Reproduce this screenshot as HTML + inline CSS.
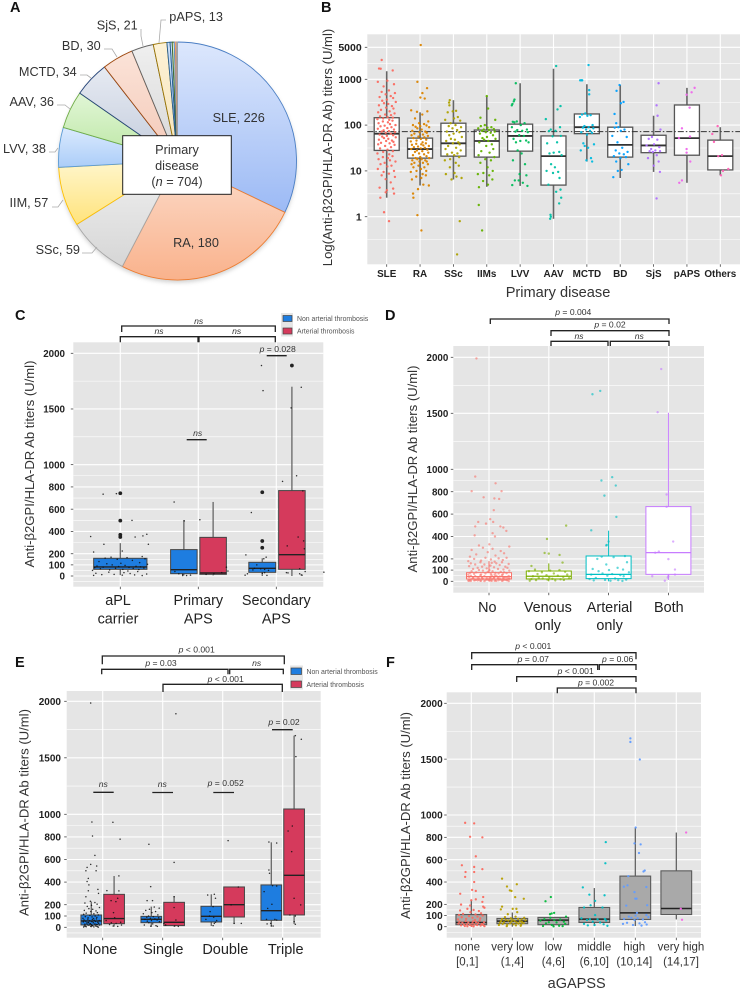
<!DOCTYPE html>
<html lang="en">
<head>
<meta charset="utf-8">
<title>Anti-β2GPI/HLA-DR antibody titers figure</title>
<style>
html,body{margin:0;padding:0;background:#fff}
svg{display:block;filter:blur(.38px);font-family:"Liberation Sans",sans-serif}
text{fill:#222}
.lab{font-size:12.7px;fill:#333}
.note{font-size:8.6px;fill:#333}
.panel-letter{font-size:14.5px;font-weight:bold;fill:#111}
.ytitle{font-size:13.1px;fill:#333}
.leg{font-size:6.9px;fill:#555}
.br{fill:none;stroke:#222;stroke-width:1.3}
.lead{fill:none;stroke:#aaa;stroke-width:.8}
</style>
</head>
<body>
<svg id="fig" xmlns="http://www.w3.org/2000/svg" width="741" height="991" viewBox="0 0 741 991">
<defs><filter id="pieShadow" x="-10%" y="-10%" width="120%" height="120%"><feGaussianBlur stdDeviation="2"/></filter></defs>

<text class="panel-letter" x="10" y="12">A</text>
<text class="panel-letter" x="321" y="12">B</text>
<text class="panel-letter" x="15" y="320">C</text>
<text class="panel-letter" x="385" y="320">D</text>
<text class="panel-letter" x="15" y="667">E</text>
<text class="panel-letter" x="386" y="667">F</text>

<g id="pie"></g>
<g>
<polyline class="lead" points="82,253 92,253 97,247"/>
<polyline class="lead" points="52,207 58,207 63,200"/>
<polyline class="lead" points="49,152 55,152 58,148"/>
<polyline class="lead" points="57,105 65,105 70,109"/>
<polyline class="lead" points="80,75 87,75 91,78"/>
<polyline class="lead" points="104,49 112,49 117,57"/>
<polyline class="lead" points="141,29 141,36 143,46"/>
<polyline class="lead" points="166,20 161,20 159,43"/>
<text class="lab" x="238.7" y="122" text-anchor="middle">SLE, 226</text>
<text class="lab" x="196" y="247" text-anchor="middle">RA, 180</text>
<text class="lab" x="80" y="254" text-anchor="end">SSc, 59</text>
<text class="lab" x="48.3" y="207" text-anchor="end">IIM, 57</text>
<text class="lab" x="46" y="153" text-anchor="end">LVV, 38</text>
<text class="lab" x="54" y="106" text-anchor="end">AAV, 36</text>
<text class="lab" x="76.7" y="76" text-anchor="end">MCTD, 34</text>
<text class="lab" x="100.7" y="50" text-anchor="end">BD, 30</text>
<text class="lab" x="137.7" y="29.5" text-anchor="end">SjS, 21</text>
<text class="lab" x="169.3" y="21">pAPS, 13</text>
<rect x="122.7" y="135.7" width="108.6" height="58.6" fill="#fff" stroke="#222" stroke-width="1"/>
<text class="lab" x="177" y="154" text-anchor="middle">Primary</text>
<text class="lab" x="177" y="170" text-anchor="middle">disease</text>
<text class="lab" x="177" y="186" text-anchor="middle">(<tspan font-style="italic">n</tspan> = 704)</text>
</g>

<g id="panelB"></g>
<g id="panelC"></g>
<g id="panelD"></g>
<g id="panelE"></g>
<g id="panelF"></g>

<text class="ytitle" transform="translate(332,147.5) rotate(-90)" text-anchor="middle">Log(Anti-β2GPI/HLA-DR Ab) titers (U/ml)</text>
<text x="558" y="297" text-anchor="middle" font-size="14.6" style="fill:#333">Primary disease</text>
<text class="ytitle" transform="translate(34,464) rotate(-90)" text-anchor="middle">Anti-β2GPI/HLA-DR Ab titers (U/ml)</text>
<text class="ytitle" transform="translate(417,469) rotate(-90)" text-anchor="middle">Anti-β2GPI/HLA-DR Ab titers (U/ml)</text>
<text class="ytitle" transform="translate(28.5,812.5) rotate(-90)" text-anchor="middle">Anti-β2GPI/HLA-DR Ab titers (U/ml)</text>
<text class="ytitle" transform="translate(410,815.5) rotate(-90)" text-anchor="middle">Anti-β2GPI/HLA-DR Ab titers (U/ml)</text>
<text x="576.7" y="988" text-anchor="middle" font-size="14.5" style="fill:#333">aGAPSS</text>

<g>
<path class="br" d="M121.7 332V326H275.3V332"/>
<path class="br" d="M120.3 342.3V336.7H198V342.3"/>
<path class="br" d="M199 342.3V336.7H275.3V342.3"/>
<path class="br" d="M186.7 439.7H206.7"/>
<path class="br" d="M266.7 355.7H286.7"/>
<text class="note" x="198.7" y="324" text-anchor="middle" font-style="italic">ns</text>
<text class="note" x="159" y="334" text-anchor="middle" font-style="italic">ns</text>
<text class="note" x="236.7" y="334" text-anchor="middle" font-style="italic">ns</text>
<text class="note" x="197.7" y="436" text-anchor="middle" font-style="italic">ns</text>
<text class="note" x="277.7" y="352" text-anchor="middle"><tspan font-style="italic">p</tspan> = 0.028</text>
<rect x="281" y="313" width="12" height="23.5" fill="#e5e5e5"/>
<rect x="283" y="315.5" width="9" height="6" fill="#1e7de0" stroke="#444" stroke-width=".7"/>
<rect x="283" y="328" width="9" height="6" fill="#d53a5c" stroke="#444" stroke-width=".7"/>
<text class="leg" x="297" y="321">Non arterial thrombosis</text>
<text class="leg" x="297" y="333.3">Arterial thrombosis</text>
</g>

<g>
<path class="br" d="M490.3 324V319H669V324"/>
<path class="br" d="M551 336V330.7H669V336"/>
<path class="br" d="M551 346V341.3H608V346"/>
<path class="br" d="M610.3 346V341.3H669V346"/>
<text class="note" x="573.3" y="315" text-anchor="middle"><tspan font-style="italic">p</tspan> = 0.004</text>
<text class="note" x="610" y="327.3" text-anchor="middle"><tspan font-style="italic">p</tspan> = 0.02</text>
<text class="note" x="579" y="339" text-anchor="middle" font-style="italic">ns</text>
<text class="note" x="639.3" y="339" text-anchor="middle" font-style="italic">ns</text>
</g>

<g>
<path class="br" d="M102.3 664.3V656H284.3V664.3"/>
<path class="br" d="M101.7 674.3V669.3H228V674.3"/>
<path class="br" d="M229.7 674.3V669.3H283.3V674.3"/>
<path class="br" d="M163 692V684.3H282.3V692"/>
<path class="br" d="M93.3 792.3H113.7"/>
<path class="br" d="M152.3 792.5H173"/>
<path class="br" d="M213.3 792.5H234"/>
<path class="br" d="M272 729.7H292.7"/>
<text class="note" x="196.7" y="652.3" text-anchor="middle"><tspan font-style="italic">p</tspan> &lt; 0.001</text>
<text class="note" x="161" y="666" text-anchor="middle"><tspan font-style="italic">p</tspan> = 0.03</text>
<text class="note" x="256.7" y="666" text-anchor="middle" font-style="italic">ns</text>
<text class="note" x="225.7" y="682" text-anchor="middle"><tspan font-style="italic">p</tspan> &lt; 0.001</text>
<text class="note" x="103.3" y="787" text-anchor="middle" font-style="italic">ns</text>
<text class="note" x="162.3" y="787" text-anchor="middle" font-style="italic">ns</text>
<text class="note" x="225.7" y="786" text-anchor="middle"><tspan font-style="italic">p</tspan> = 0.052</text>
<text class="note" x="284" y="725" text-anchor="middle"><tspan font-style="italic">p</tspan> = 0.02</text>
<rect x="290" y="665.5" width="13" height="24" fill="#e5e5e5"/>
<rect x="291" y="668" width="10.5" height="6.5" fill="#1e7de0" stroke="#444" stroke-width=".7"/>
<rect x="291" y="681" width="10.5" height="6.5" fill="#d53a5c" stroke="#444" stroke-width=".7"/>
<text class="leg" x="306.5" y="674">Non arterial thrombosis</text>
<text class="leg" x="306.5" y="687">Arterial thrombosis</text>
</g>

<g>
<path class="br" d="M471.7 659.3V652.7H636V659.3"/>
<path class="br" d="M471.7 670V664.7H597.7V670"/>
<path class="br" d="M599.3 670V664.7H636V670"/>
<path class="br" d="M516.7 682V676.7H636V682"/>
<path class="br" d="M557.3 693.3V688H636V693.3"/>
<text class="note" x="533.3" y="649" text-anchor="middle"><tspan font-style="italic">p</tspan> &lt; 0.001</text>
<text class="note" x="533.3" y="662" text-anchor="middle"><tspan font-style="italic">p</tspan> = 0.07</text>
<text class="note" x="617.7" y="662" text-anchor="middle"><tspan font-style="italic">p</tspan> = 0.06</text>
<text class="note" x="575.7" y="674" text-anchor="middle"><tspan font-style="italic">p</tspan> &lt; 0.001</text>
<text class="note" x="596" y="685.3" text-anchor="middle"><tspan font-style="italic">p</tspan> = 0.002</text>
</g>
</svg>

<script>
/* ---------- Panel A data ---------- */
const pieNames=['SLE','RA','SSc','IIM','LVV','AAV','MCTD','BD','SjS','pAPS','o1','o2','o3','o4','o5','o6'];
const pieCounts=[226,180,59,57,38,36,34,30,21,13,3,2,2,1,1,1];
const pieTop=['#dce7fc','#fcdccb','#f0f0f0','#fff6cc','#dbeafe','#e1f6d6','#e6eaf2','#fbe3d8','#efefef','#fdf2d6','#cfe0f7','#cfe0f7','#d6ecc8','#dbe4f5','#fbd5be','#ddd'];
const pieBottom=['#9cbaf5','#f9b28c','#d6d6d6','#ffe37c','#abcdf8','#bbe6a3','#c3ccdc','#f3c8b7','#d6d6d6','#f5e2b8','#9fc1ee','#9fc1ee','#a9d490','#a8bce6','#f5a878','#bbb'];
const pieStroke=['#4a7ec4','#ed7d31','#a5a5a5','#ffc000','#5b9bd5','#70ad47','#264478','#9e480e','#636363','#997300','#255e91','#255e91','#43682b','#698ed0','#f1975a','#a0a0a0'];

/* ---------- Shared axis values ---------- */
const titerTicks=[0,100,200,400,600,800,1000,1500,2000];
const titerMinor=[-50,50,150,300,500,700,900,1250,1750];
const scatter=[.62,-.41,.13,-.87,.35,.94,-.22,-.66,.51,.07,-.95,.78,-.33,.24,-.54,.88,-.11,.43,-.76,.69,.02,-.48,.97,-.29,.17,-.83,.56,-.06,.72,-.61,.31,-.91,.84,-.17,.46,-.71,.09,.66,-.38,-.99,.27];

/* ---------- Panel B data ---------- */
const bCategories=['SLE','RA','SSc','IIMs','LVV','AAV','MCTD','BD','SjS','pAPS','Others'];
const bTicks=[1,10,100,1000,5000];
const bMinor=[.316,3.16,31.6,316,2236];
const bColors=['#fb6a60','#db8400','#aea200','#64b200','#00bd5c','#00c1a7','#00badf','#00a0ff','#b070ff','#ef67eb','#ff63b6'];
const bCutoff=72;
const bStats=[[2.6,28,65,145,1500],[4.8,19,30,52,190],[6.5,21,40,110,350],[4.5,20,45,78,430],[4.7,27,58,105,820],[.9,4.9,21,58,1700],[16,65,90,175,780],[7,20,37,90,750],[9.5,25,36,60,160],[5.5,22,52,275,650],[8,10.5,21,47,90]];
const sleTiters=[2640,1720,1700,1560,1.25,.8,2.6,3.2,3.4,930,880,780,700,570,530,500,470,430,410,390,360,340,320,300,290,270,260,240,230,215,200,190,180,170,165,155,150,145,140,135,130,125,120,115,110,105,100,97,94,90,86,83,80,77,74,72,70,68,65,62,60,58,56,54,52,50,48,46,45,43,41,40,38,37,35,33,31,29,27,26,24,23,21,20,19,18,17,16,15,14,13,12.5,11,10,9.5,8.7,8,7.4,6.6,5.6,4.3,4.1,3.8];
const sleJitter=[-.15,-.23,-.18,.18,-.08,.07,-.19,.22,-.03];
const raTiters=[5600,880,640,500,400,380,3.2,2.6,1.08,.5,210,200,195,170,140,120,110,105,100,98,95,92,90,85,80,75,72,70,68,65,62,60,58,56,54,52,50,48,46,44,42,40,39,38,37,36,35,34,33,32,31,30,29,28,27,26,25,24,23,22,21,20,19,19,18,18,17,17,16,16,15,15,14,14,13,12,12,11,10,10,9.5,8.5,8,7.5,7,6.5,5,4.8,4];
const raJitter=[.02,-.08,.21,.07,.01,.14,-.21,-.2,-.08,.04];
const sscTiters=[350,310,270,.8,.15,205,200,190,150,140,130,125,110,100,95,90,85,78,72,70,65,60,55,50,48,45,42,40,38,35,32,30,28,25,24,23,22,20,18,17,15,13,12,9,8.5,7.5,7,6.5];
const sscJitter=[-.11,-.13,-.12,.19,.11,.08,-.02];
const iimTiters=[430,230,145,1.8,.5,130,100,95,90,88,85,82,80,78,75,72,70,68,65,60,55,52,50,48,45,42,38,35,30,27,25,22,20,18,17,15,12,10,9,8.5,8,6.5,6,5,4.4];
const iimJitter=[0,.04,-.19,-.24,-.14];
const lvvTiters=[820,360,330,290,270,120,118,115,110,100,90,80,78,75,72,70,60,58,50,46,45,42,42,28,24,17,14,8.5,8,6.2,5.5,4.9,4.7,6.2];
const lvvJitter=[-.13,-.17,-.19,-.23,-.25,-.1,-.22];
const aavTiters=[1950,260,220,135,3.9,3.5,2.6,1.95,1.1,1,.9,90,80,75,74,58,57,42,40,26,25,24,22,14,12,10,9.5,9,7,5];
const aavJitter=[.08,.21,.12,-.23,.21,.08,.23,.17,-.09,-.08,-.1];
const mctdTiters=[2050,950,950,950,580,470,180,170,165,160,150,100,95,90,88,85,80,75,70,68,62,40,38,35,32,28,19,17,16];
const mctdJitter=[.05,-.2,-.16,-.14,.07,.07];
const bdTiters=[750,560,320,300,175,110,90,88,80,75,58,55,42,32,28,26,24,23,21,20,19,16,14,10,10.5,7.3];
const bdJitter=[-.02,-.11,.1,.02,-.17,-.12];
const sjsTiters=[820,270,160,2.5,9.5,80,55,50,48,38,36,33,30,28,27,27,26,22,19,16,13];
const sjsJitter=[.15,.09,.12,.09,.19];
const papsTiters=[650,520,460,240,85,52,56,30,25,16,6.2,5.5];
const papsJitter=[.23,.14,-.01,.08,-.15,-.24,.09,-.01,-.01,.1,-.15,-.23];
const othersTiters=[95,64,43,21,22,11,10,8];
const othersJitter=[-.08,-.24,-.19,-.06,.05,.24,.08,.02];

/* ---------- Panel C data ---------- */
const cCategories=[['aPL','carrier'],['Primary','APS'],['Secondary','APS']];
const cStats=[[8,60,81,159,295],[5,21,57,237,503],[5,15,27,347,665],[0,33,69,123,159],[0,60,191,767,1700]];
const cOutliersApl=[743,497,370,350];
const cOutliersSecNon=[752,314,254];
const cOutliersSecArt=[1890];
const cAplTiters=[735,740,500,375,360,355,350,285,285,225,215,175,170,165,160,155,150,140,130,120,115,110,105,100,95,90,88,85,82,80,78,75,72,70,68,65,60,58,55,50,45,40,35,30,25,22,18,15,12,10,8,6,5];
const cAplJitter=[-.22,-.05,.15,.34,.29,-.38,.19,-.21,.36];
const cPriNonTiters=[665,495,40,20,15,8,5,5];
const cPriNonJitter=[-.31,-.18,-.3,-.25,-.2,-.1,-.2,-.15];
const cPriArtTiters=[505,80,45,30,20,15];
const cPriArtJitter=[.02,.36,.38,.3,.2,.1];
const cSecNonTiters=[1890,1665,570,190,170,155,100,70,65,60,55,50,30,25,20,8,6];
const cSecNonJitter=[-.19,-.17,-.32,-.39,-.13,-.16,-.25,-.28,-.2,-.15,-.3,-.1,-.15,-.18,-.37,-.4,-.12];
const cSecArtTiters=[1695,1510,900,850,765,350,315,270,245,65,40,30,28,20,10,8,35];
const cSecArtJitter=[.32,.19,.26,.08,.34,.28,.35,.14,.36,.3,.37,.13,.15,.3,.32,.33,.61];

/* ---------- Panel D data ---------- */
const dCategories=[['No'],['Venous','only'],['Arterial','only'],['Both']];
const dColors=['#f8766d','#7cae00','#00bfc4','#c77cff'];
const dStats=[[0,21,42,77,180],[0,21,45,92,160],[0,24,62,226,452],[12,62,256,667,1505]];
const dNoTiters=[1990,935,875,805,805,750,740,735,635,530,555,515,530,490,490,480,450,430,410,400,330,320,310,300,290,280,270,260,250,240,230,220,210,210,205,200,195,190,185,180,175,170,170,165,160,160,155,150,150,145,140,135,130,130,125,120,120,115,110,110,105,100,100,95,95,90,90,85,85,80,80,75,75,72,70,70,66,65,62,60,60,58,55,55,52,50,50,48,45,45,42,40,40,38,36,35,34,32,30,30,28,26,25,24,22,20,20,18,16,15,15,14,12,12,10,10,9,8,8,7,6,6,5,5,4,4,3,3,2,2,10,20,30,5,15,25,35,8,12,18,22,28,32,6,14,24];
const dNoJitter=[-.21,-.23,.11,-.29,.21,-.09,.09,.17,.08,-.18,.02,-.05,.07,-.23,.19,.24,.29,.06,-.24,.1];
const dVenTiters=[497,378,253,247,235,137,167,105,100,95,90,85,80,70,65,60,55,50,45,40,35,30,28,25,22,20,18,15,12,10,8,5];
const dVenJitter=[.29,-.03,-.07,0,.18,-.29,.23];
const dArtTiters=[1670,1700,930,900,855,765,575,455,355,325,320,225,220,215,200,170,150,120,110,105,100,90,80,70,65,60,55,50,45,30,25,20,15,12,10,8,5,3];
const dArtJitter=[-.27,-.14,.06,-.12,.12,-.07,.13,-.29,0,-.03,-.04];
const dBothTiters=[1895,1510,775,665,355,265,255,198,105,60,45,45,33,5];
const dBothJitter=[-.12,-.18,-.03,-.03,.08,-.16,-.22,0,.11,.11,-.27,0,-.01,-.06];

/* ---------- Panel E data ---------- */
const eCategories=[['None'],['Single'],['Double'],['Triple']];
const eStatsNon=[[0,21,56,109,227],[5,41,71,97,183],[12,47,97,186,292],[12,62,147,375,752]];
const eStatsArt=[[6,32,77,292,454],[5,15,44,221,277],[30,91,200,357,357],[30,109,460,1047,1696]];
const eNoneNonTiters=[1985,932,808,637,557,543,530,500,500,433,405,375,336,300,324,270,230,220,215,205,195,185,175,165,160,150,145,140,130,125,120,115,110,105,100,95,92,88,85,80,78,75,72,70,66,62,60,58,55,52,50,48,45,42,40,38,35,32,30,28,26,24,22,20,18,15,12,10,8,6,5,4,3,2,30,20,10,15,25,40];
const eNoneNonJitter=[-.2,-.18,-.17,-.13,-.2,-.1,-.26,-.28,-.11,-.24,-.26,-.23,-.08,-.07,-.24,-.28];
const eNoneArtTiters=[930,780,455,325,322,257,236,227,130,85,60,45,40,35,25,20,12,8];
const eNoneArtJitter=[.17,.29,.27,.07,.27,.25,.14,.22,.18];
const eSingleNonTiters=[735,360,236,236,180,170,160,150,140,130,120,110,100,95,90,85,80,75,70,65,60,55,50,40,30,20,15,10,8];
const eSingleNonJitter=[-.23,-.2,-.26,-.17];
const eSingleArtTiters=[1890,575,270,175,65,20,12,8,35];
const eSingleArtJitter=[.22,.19,.19,.19,.22,.05,.2,.26,.02];
const eDoubleNonTiters=[292,286,257,183,139,100,90,70,60,45,35,15];
const eDoubleNonJitter=[-.14,-.25,-.12,-.16,-.21,-.22,-.15,-.28,-.1,-.12,-.14,-.16];
const eDoubleArtTiters=[767,357,198,35,35];
const eDoubleArtJitter=[.09,.26,.14,.19,.31];
const eTripleNonTiters=[755,746,507,478,316,369,366,204,168,70,70,65,35,30,12,12];
const eTripleNonJitter=[-.23,-.1,-.23,-.22,-.31,-.17,-.1,-.18,-.25,-.27,-.13,-.1,-.2,-.26,-.16,-.19];
const eTripleArtTiters=[1696,1664,1510,897,852,670,257,198,109,100,50,27];
const eTripleArtJitter=[.21,.31,.22,.16,.09,.15,.19,.3,.12,.21,.19,.21];

/* ---------- Panel F data ---------- */
const fCategories=[['none','[0,1]'],['very low','(1,4]'],['low','(4,6]'],['middle','(6,10]'],['high','(10,14]'],['very high','(14,17]']];
const fColors=['#fb6a60','#b79f00','#00ba38','#00bfc4','#619cff','#f564e3'];
const fStats=[[0,18,38,109,243],[0,27,50,74,127],[0,18,59,83,83],[6,38,68,172,346],[6,65,124,453,888],[65,109,163,500,843]];
const fNoneTiters=[930,925,805,800,630,550,535,490,515,490,446,400,330,320,295,266,245,237,222,198,180,190,170,160,150,145,140,130,120,115,110,105,100,95,90,85,80,75,70,65,60,55,50,48,45,42,40,38,35,32,30,28,25,22,20,18,16,15,14,12,10,8,6,5,4,3];
const fNoneJitter=[-.15,.07,-.03,.27,.11,-.23,.07,-.14,.27,.07,-.15,.07,.02,.11,-.27,.29,.11,0,.27,-.25,.29,-.03];
const fVeryLowTiters=[430,380,360,325,320,265,250,180,155,160,160,112,130,90,85,80,75,70,68,65,62,60,58,55,52,50,48,45,42,40,38,35,32,30,28,25,22,20,18,15,12,8,5];
const fVeryLowJitter=[-.25,.11,-.13,-.06,-.02,.07,.28,-.25,-.28,.01,.1,-.11,.12];
const fLowTiters=[266,228,124,118,112,90,80,68,65,60,55,45,40,38,30,25,15,8,6,5,3];
const fLowJitter=[-.06,-.19,.02,-.04,-.08];
const fMiddleTiters=[757,568,352,281,287,231,192,172,172,104,75,70,68,65,60,55,45,38,25,22,15,12,8];
const fMiddleJitter=[.28,.27,-.28,.25,-.12,.02,-.09,-.25,.2,.02];
const fHighTiters=[1686,1654,1497,888,746,737,660,503,494,453,358,370,355,310,251,251,189,192,104,124,100,90,85,80,75,70,65,60,40,35,30,25,20,15,10];
const fHighJitter=[-.12,-.12,.11,.01,-.02,.13,.09,.23,.2,-.17,-.28,-.19,.27,-.02,0,.03,-.22,.29,.27,.04];
const fVeryHighTiters=[843,160,62];
const fVeryHighJitter=[.24,.11,.14];

/* ---------- Helpers ---------- */
const NS='http://www.w3.org/2000/svg';
function mk(parent,tag,attrs,name){
  const el=document.createElementNS(NS,tag);
  for(const k in attrs){el.setAttribute(k,attrs[k]);}
  
  
  parent.appendChild(el);
  return el;
}
function label(parent,x,y,str,attrs,name){
  const t=mk(parent,'text',Object.assign({x:x,y:y},attrs),name);
  t.textContent=str;
  return t;
}

/* ---------- Pie ---------- */
function drawPie(){
  const g=document.getElementById('pie');
  const cx=177.5,cy=161,r=119;
  const defs=document.querySelector('#fig defs');
  mk(g,'circle',{cx:cx,cy:cy+2.5,r:r,fill:'#999',opacity:.45,filter:'url(#pieShadow)'},'pie-shadow');
  const total=pieCounts.reduce((a,b)=>a+b,0);
  let acc=0;
  pieCounts.forEach((c,i)=>{
    const a0=acc/total*2*Math.PI;acc+=c;const a1=acc/total*2*Math.PI;
    const id='pg'+i;
    const grad=document.createElementNS(NS,'linearGradient');
    grad.setAttribute('id',id);grad.setAttribute('x1','0');grad.setAttribute('y1','0');grad.setAttribute('x2','0');grad.setAttribute('y2','1');
    const s0=document.createElementNS(NS,'stop');s0.setAttribute('offset','0');s0.setAttribute('stop-color',pieTop[i]);grad.appendChild(s0);
    const s1=document.createElementNS(NS,'stop');s1.setAttribute('offset','1');s1.setAttribute('stop-color',pieBottom[i]);grad.appendChild(s1);
    defs.appendChild(grad);
    const x0=cx+r*Math.sin(a0),y0=cy-r*Math.cos(a0),x1=cx+r*Math.sin(a1),y1=cy-r*Math.cos(a1);
    const large=(a1-a0)>Math.PI?1:0;
    mk(g,'path',{d:`M${cx} ${cy}L${x0} ${y0}A${r} ${r} 0 ${large} 1 ${x1} ${y1}Z`,fill:`url(#${id})`,stroke:pieStroke[i],'stroke-width':.9},'pie-slice-'+pieNames[i].toLowerCase());
  });
}

/* ---------- Generic panel frame ---------- */
function frame(o){
  const g=document.getElementById(o.id);
  mk(g,'rect',{x:o.left,y:o.top,width:o.right-o.left,height:o.bottom-o.top,fill:'#e5e5e5'},o.tag+'-plot-background');
  o.minor.forEach(v=>{
    const y=o.y(v);
    mk(g,'line',{x1:o.left,x2:o.right,y1:y,y2:y,stroke:'#fff','stroke-width':.55},o.tag+'-minor-gridline');
  });
  o.major.forEach(v=>{
    const y=o.y(v);
    mk(g,'line',{x1:o.left,x2:o.right,y1:y,y2:y,stroke:'#fff','stroke-width':1.1},o.tag+'-major-gridline');
    mk(g,'line',{x1:o.left-2.5,x2:o.left,y1:y,y2:y,stroke:'#444','stroke-width':.8},o.tag+'-y-tick');
    label(g,o.labelEdge,y+3.6,String(v),{'text-anchor':'end','font-size':o.tickFont,'font-weight':'bold'},o.tag+'-y-tick-label');
  });
  o.cats.forEach((c,i)=>{
    const x=o.x(i);
    mk(g,'line',{x1:x,x2:x,y1:o.top,y2:o.bottom,stroke:'#fff','stroke-width':1.1},o.tag+'-vertical-gridline');
    mk(g,'line',{x1:x,x2:x,y1:o.bottom,y2:o.bottom+2.5,stroke:'#444','stroke-width':.8},o.tag+'-x-tick');
    c.forEach((line,j)=>{
      label(g,x+(o.nudge?o.nudge[i]:0),o.catY+j*o.catGap,line,{'text-anchor':'middle','font-size':o.catFont,'font-weight':o.catWeight||'normal',style:'fill:'+(o.catFill||'#222')},o.tag+'-x-category-label');
    });
  });
  return g;
}
function box(g,o,cx,w,s,st,name){
  const[lo,q1,med,q3,hi]=s;
  const y=o.y;
  mk(g,'line',{x1:cx,x2:cx,y1:y(q3),y2:y(hi),stroke:st.whisk,'stroke-width':st.ww},name+'-upper-whisker');
  mk(g,'line',{x1:cx,x2:cx,y1:y(q1),y2:y(lo),stroke:st.whisk,'stroke-width':st.ww},name+'-lower-whisker');
  mk(g,'rect',{x:cx-w/2,y:y(q3),width:w,height:y(q1)-y(q3),fill:st.fill,stroke:st.stroke,'stroke-width':st.sw},name+'-box');
  mk(g,'line',{x1:cx-w/2,x2:cx+w/2,y1:y(med),y2:y(med),stroke:st.med,'stroke-width':st.mw},name+'-median');
}
function dots(g,o,i,vals,jit,center,spread,st,name){
  vals.forEach((v,k)=>{
    const j=(jit&&jit[k]!==undefined)?jit[k]:center+scatter[k%scatter.length]*spread;
    mk(g,'circle',{cx:o.x(i)+j*o.step,cy:o.y(v),r:st.r,fill:st.color,opacity:st.op},name+'-point');
  });
}
function outliers(g,o,i,off,vals,name){
  vals.forEach(v=>{
    mk(g,'circle',{cx:o.x(i)+off*o.step,cy:o.y(v),r:1.9,fill:'#222'},name+'-outlier');
  });
}
function linearOpts(id,tag,left,right,top,bottom,y0,y2000,x0,step,edge,cats,catY,catGap,catFont,tickFont,nudge){
  return {id,tag,left,right,top,bottom,step,labelEdge:edge,cats,catY,catGap,catFont,tickFont,nudge,
    minor:titerMinor,major:titerTicks,
    x:i=>x0+i*step,
    y:v=>y0+(y2000-y0)*v/2000};
}

/* ---------- Panel B ---------- */
function drawB(){
  const o={id:'panelB',tag:'b',left:367.3,right:740,top:34.3,bottom:264.3,step:33.36,labelEdge:361.7,
    cats:bCategories.map(c=>[c]),catY:277,catGap:0,catFont:9.9,catWeight:'bold',tickFont:10.5,minor:bMinor,major:bTicks,
    x:i=>386.7+i*33.36,y:v=>216.7-45.8*Math.log10(v)};
  const g=frame(o);
  const groups=[[sleTiters,sleJitter],[raTiters,raJitter],[sscTiters,sscJitter],[iimTiters,iimJitter],[lvvTiters,lvvJitter],[aavTiters,aavJitter],[mctdTiters,mctdJitter],[bdTiters,bdJitter],[sjsTiters,sjsJitter],[papsTiters,papsJitter],[othersTiters,othersJitter]];
  const spreads=[.28,.28,.26,.27,.26,.25,.22,.25,.22,.24,.24];
  bStats.forEach((s,i)=>{
    box(g,o,o.x(i),25,s,{whisk:'#666',ww:1.6,fill:'#fff',stroke:'#555',sw:1.3,med:'#333',mw:1.8},'b-'+bCategories[i].toLowerCase());
  });
  mk(g,'line',{x1:o.left,x2:o.right,y1:o.y(bCutoff),y2:o.y(bCutoff),stroke:'#333','stroke-width':.9,'stroke-dasharray':'6 2 1.5 2'},'b-cutoff-line');
  groups.forEach((gr,i)=>{
    dots(g,o,i,gr[0],gr[1],0,spreads[i],{r:1.2,color:bColors[i],op:.95},'b-'+bCategories[i].toLowerCase());
  });
}

/* ---------- Panels C-F ---------- */
const BLUE='#1e7de0',RED='#d53a5c';
const dark={whisk:'#666',ww:1.3,stroke:'#444',sw:1,med:'#222',mw:1.4};
const tiny={r:.75,color:'#111',op:.85};

function drawC(){
  const o=linearOpts('panelC','c',73.3,323.3,342.3,586.7,576,353.3,120.3,78,65,cCategories,605,18.5,14.4,9.8,[-2.3,0,0]);
  const g=frame(o);
  const names=['c-apl','c-primary-non-arterial','c-primary-arterial','c-secondary-non-arterial','c-secondary-arterial'];
  const centers=[0,1,1,2,2],off=[0,-.185,.19,-.18,.2],wid=[.683,.34,.34,.345,.34],fills=[BLUE,BLUE,RED,BLUE,RED];
  cStats.forEach((s,i)=>{
    box(g,o,o.x(centers[i])+off[i]*o.step,wid[i]*o.step,s,Object.assign({fill:fills[i]},dark),names[i]);
  });
  outliers(g,o,0,0,cOutliersApl,'c-apl');
  outliers(g,o,2,-.18,cOutliersSecNon,'c-secondary-non-arterial');
  outliers(g,o,2,.2,cOutliersSecArt,'c-secondary-arterial');
  dots(g,o,0,cAplTiters,cAplJitter,0,.36,tiny,'c-apl');
  dots(g,o,1,cPriNonTiters,cPriNonJitter,-.18,.14,tiny,'c-primary-non-arterial');
  dots(g,o,1,cPriArtTiters,cPriArtJitter,.18,.14,tiny,'c-primary-arterial');
  dots(g,o,2,cSecNonTiters,cSecNonJitter,-.18,.14,tiny,'c-secondary-non-arterial');
  dots(g,o,2,cSecArtTiters,cSecArtJitter,.18,.14,tiny,'c-secondary-arterial');
}
function drawD(){
  const o=linearOpts('panelD','d',453.3,704,346,592.7,581.3,357.3,489,59.8,448.3,dCategories,612,18,14.4,9.8,[-1.7,-1,1,.4]);
  const g=frame(o);
  dStats.forEach((s,i)=>{
    box(g,o,o.x(i),45,s,{whisk:dColors[i],ww:1,fill:'#fff',stroke:dColors[i],sw:1,med:dColors[i],mw:1.2},'d-'+dCategories[i][0].toLowerCase());
  });
  const gs=[[dNoTiters,dNoJitter],[dVenTiters,dVenJitter],[dArtTiters,dArtJitter],[dBothTiters,dBothJitter]];
  gs.forEach((gr,i)=>{
    dots(g,o,i,gr[0],gr[1],0,.35,{r:1.2,color:dColors[i],op:.62},'d-'+dCategories[i][0].toLowerCase());
  });
}
function drawE(){
  const o=linearOpts('panelE','e',66.7,320.7,691,937.7,927.3,701.3,102.7,60,61,eCategories,954,0,14.5,10,[-2.7,.6,2.6,3]);
  const g=frame(o);
  eCategories.forEach((c,i)=>{
    const n='e-'+c[0].toLowerCase();
    box(g,o,o.x(i)-.19*o.step,.345*o.step,eStatsNon[i],Object.assign({fill:BLUE},dark),n+'-non-arterial');
    box(g,o,o.x(i)+.19*o.step,.345*o.step,eStatsArt[i],Object.assign({fill:RED},dark),n+'-arterial');
  });
  const non=[[eNoneNonTiters,eNoneNonJitter],[eSingleNonTiters,eSingleNonJitter],[eDoubleNonTiters,eDoubleNonJitter],[eTripleNonTiters,eTripleNonJitter]];
  const art=[[eNoneArtTiters,eNoneArtJitter],[eSingleArtTiters,eSingleArtJitter],[eDoubleArtTiters,eDoubleArtJitter],[eTripleArtTiters,eTripleArtJitter]];
  non.forEach((gr,i)=>{
    dots(g,o,i,gr[0],gr[1],-.19,.14,tiny,'e-'+eCategories[i][0].toLowerCase()+'-non-arterial');
  });
  art.forEach((gr,i)=>{
    dots(g,o,i,gr[0],gr[1],.19,.14,tiny,'e-'+eCategories[i][0].toLowerCase()+'-arterial');
  });
}
function drawF(){
  const o=linearOpts('panelF','f',446.7,701,692.3,937.7,926.7,703.3,471.3,41,442.7,fCategories,950.7,15,11.5,10,[-4,0,0,0,-1,4.7]);
  o.catFill='#333';
  const g=frame(o);
  const gs=[[fNoneTiters,fNoneJitter],[fVeryLowTiters,fVeryLowJitter],[fLowTiters,fLowJitter],[fMiddleTiters,fMiddleJitter],[fHighTiters,fHighJitter],[fVeryHighTiters,fVeryHighJitter]];
  fStats.forEach((s,i)=>{
    box(g,o,o.x(i),30.7,s,{whisk:'#555',ww:1.2,fill:'#a9a9a9',stroke:'#5a5a5a',sw:1.1,med:'#222',mw:1.5},'f-'+fCategories[i][0].replace(' ','-'));
  });
  gs.forEach((gr,i)=>{
    dots(g,o,i,gr[0],gr[1],0,.33,{r:1.15,color:fColors[i],op:.95},'f-'+fCategories[i][0].replace(' ','-'));
  });
}
drawPie();drawB();drawC();drawD();drawE();drawF();
</script>
</body>
</html>
